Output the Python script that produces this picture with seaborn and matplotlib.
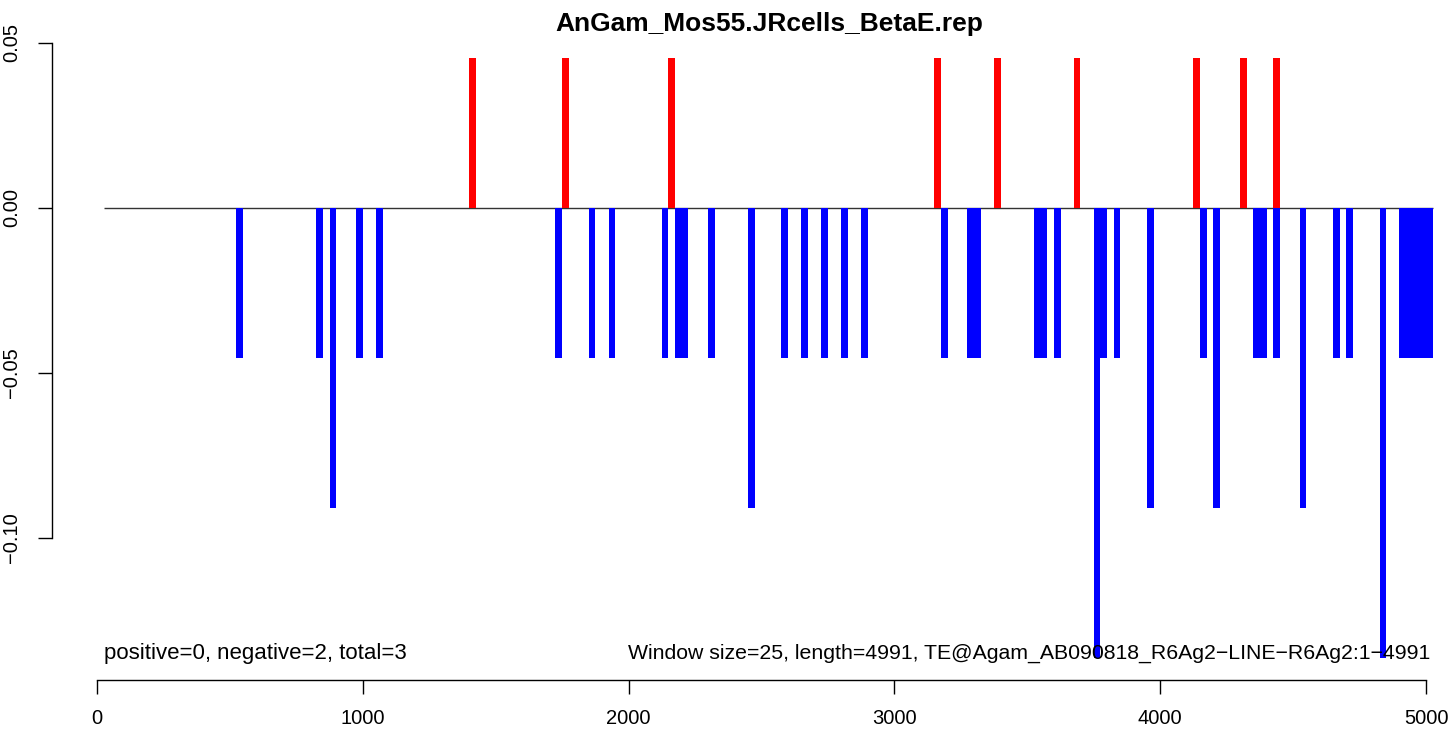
import pandas as pd
import matplotlib
matplotlib.use("Agg")
import matplotlib.pyplot as plt
import seaborn as sns

# windows (centre of each 25 bp window) and their scores
pos_x = [1412.5, 1762.5, 2162.5, 3162.5, 3387.5, 3687.5, 4137.5, 4312.5, 4437.5]
pos_y = [0.0455, 0.0455, 0.0455, 0.0455, 0.0455, 0.0455, 0.0455, 0.0455, 0.0455]

neg_x = [537.5, 837.5, 887.5, 987.5, 1062.5, 1737.5, 1862.5, 1937.5, 2137.5,
         2187.5, 2212.5, 2312.5, 2462.5, 2587.5, 2662.5, 2737.5, 2812.5, 2887.5,
         3187.5, 3287.5, 3312.5, 3537.5, 3562.5, 3612.5, 3762.5, 3787.5, 3837.5,
         3962.5, 4162.5, 4212.5, 4362.5, 4387.5, 4437.5, 4537.5, 4662.5, 4712.5,
         4837.5, 4912.5, 4937.5, 4962.5, 4987.5, 5012.5]
neg_y = [-0.0455, -0.0455, -0.0909, -0.0455, -0.0455, -0.0455, -0.0455, -0.0455, -0.0455,
         -0.0455, -0.0455, -0.0455, -0.0909, -0.0455, -0.0455, -0.0455, -0.0455, -0.0455,
         -0.0455, -0.0455, -0.0455, -0.0455, -0.0455, -0.0455, -0.1364, -0.0455, -0.0455,
         -0.0909, -0.0455, -0.0909, -0.0455, -0.0455, -0.0455, -0.0909, -0.0455, -0.0455,
         -0.1364, -0.0455, -0.0455, -0.0455, -0.0455, -0.0455]

x_ticks = [0, 1000, 2000, 3000, 4000, 5000]
y_ticks = [-0.10, -0.05, 0.00, 0.05]
y_tick_labels = ["\u22120.10", "\u22120.05", "0.00", "0.05"]

title = "AnGam_Mos55.JRcells_BetaE.rep"
left_note = "positive=0, negative=2, total=3"
right_note = ("Window size=25, length=4991, "
              "TE@Agam_AB090818_R6Ag2\u2212LINE\u2212R6Ag2:1\u22124991")

data = pd.DataFrame({
    "pos": pos_x + neg_x,
    "score": pos_y + neg_y,
    "sign": ["pos"] * len(pos_x) + ["neg"] * len(neg_x),
})

sns.set_style("white")
plt.rcParams["font.family"] = ["Liberation Sans", "DejaVu Sans"]
plt.rcParams["text.color"] = "black"
plt.rcParams["xtick.color"] = "black"
plt.rcParams["ytick.color"] = "black"

fig = plt.figure(figsize=(14.52, 7.30), dpi=100)
ax = fig.add_axes([52 / 1452, 50 / 730, 1382 / 1452, 646 / 730])

# baseline
ax.hlines(0, 25, 5025, color="#333333", lw=1, zorder=1)

sns.barplot(data=data, x="pos", y="score", hue="sign",
            palette={"pos": "#FF0000", "neg": "#0000FF"},
            native_scale=True, width=1, dodge=False, errorbar=None,
            saturation=1, legend=False, linewidth=0, orient="x", ax=ax, zorder=2)

ax.set_xlim(-169, 5030)
ax.set_ylim(-0.1430, 0.0527)

ax.set_xticks(x_ticks)
ax.set_xticklabels([str(t) for t in x_ticks], fontsize=14.5)
ax.set_yticks(y_ticks)
ax.set_yticklabels(y_tick_labels, fontsize=14.5, rotation=90, va="center")
ax.tick_params(axis="both", bottom=True, left=True, length=10, width=1,
               color="black", labelcolor="black", direction="out")
ax.tick_params(axis="x", pad=11)
ax.tick_params(axis="y", pad=12)
ax.set_xlabel("")
ax.set_ylabel("")

for side in ["top", "right"]:
    ax.spines[side].set_visible(False)
for side in ["left", "bottom"]:
    ax.spines[side].set_color("black")
    ax.spines[side].set_linewidth(1)
ax.spines["left"].set_bounds(-0.10, 0.05)
ax.spines["bottom"].set_bounds(0, 5000)

ax.text(25, -0.1367, left_note, fontsize=16, ha="left", va="baseline", color="black")
ax.text(5015, -0.1367, right_note, fontsize=15.3, ha="right", va="baseline", color="black")

fig.text(769 / 1452, 1 - 24 / 730, title, fontsize=19, fontweight="bold",
         ha="center", va="center", color="black")

fig.savefig("out.png", dpi=100)
